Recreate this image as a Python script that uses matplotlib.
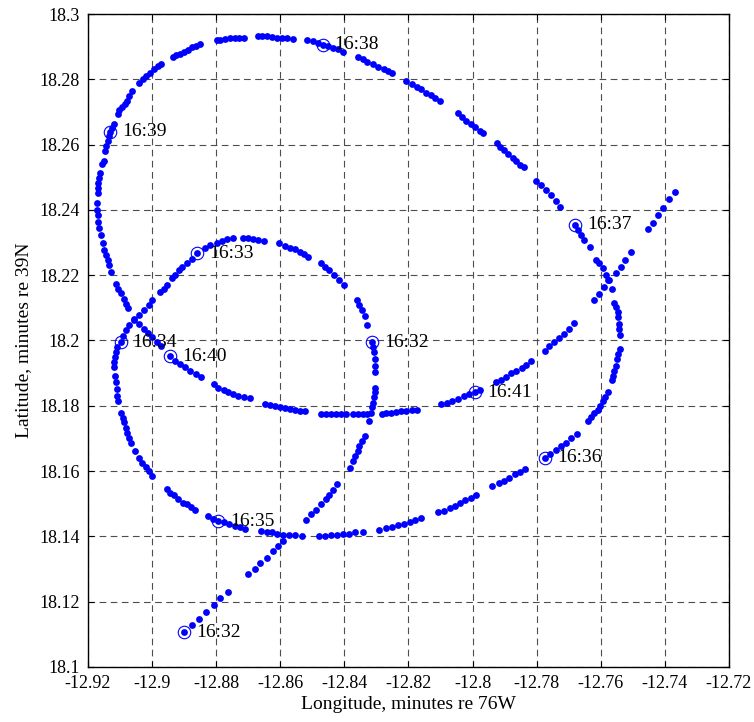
import matplotlib.pyplot as plt

plt.rcParams['font.family'] = ['Liberation Serif', 'DejaVu Serif']
plt.rcParams['axes.unicode_minus'] = False

# ship track fixes (longitude / latitude, minutes)
track_lon = [
    -12.8899, -12.8875, -12.8853, -12.8831, -12.8808, -12.8788, -12.8764,
    -12.8702, -12.8679, -12.8664, -12.8643, -12.8624, -12.8607, -12.8591,
    -12.8519, -12.8505, -12.8488, -12.8472, -12.8457, -12.8447, -12.8434, -12.8424,
    -12.8384, -12.8374, -12.8366, -12.8359, -12.8353, -12.8345, -12.8336,
    -12.8322, -12.8317, -12.8315, -12.8312, -12.8308, -12.8305, -12.8304,
    -12.8304, -12.8304, -12.8304, -12.8307, -12.8310, -12.8314,
    -12.8328, -12.8336, -12.8345, -12.8353, -12.8362,
    -12.8400, -12.8418, -12.8431, -12.8447, -12.8462, -12.8472,
    -12.8514, -12.8527, -12.8540, -12.8555, -12.8571, -12.8586, -12.8604,
    -12.8651, -12.8669, -12.8684, -12.8700, -12.8717,
    -12.8748, -12.8767, -12.8782, -12.8798, -12.8819, -12.8834, -12.8860, -12.8875,
    -12.8891, -12.8906, -12.8917, -12.8927, -12.8937,
    -12.8953, -12.8963, -12.8974,
    -12.8999, -12.9010, -12.9025, -12.9041, -12.9056, -12.9072, -12.9082, -12.9092,
    -12.9098, -12.9108, -12.9113, -12.9116, -12.9118, -12.9118,
    -12.9116, -12.9113, -12.9110, -12.9108, -12.9106,
    -12.9098, -12.9092, -12.9087, -12.9082, -12.9077, -12.9072, -12.9067,
    -12.9054, -12.9041, -12.9030, -12.9020, -12.9010, -12.8999,
    -12.8955, -12.8945, -12.8932, -12.8919, -12.8904, -12.8891, -12.8878, -12.8865,
    -12.8824, -12.8810, -12.8793, -12.8777, -12.8759, -12.8741, -12.8726, -12.8710,
    -12.8660, -12.8643, -12.8627, -12.8610, -12.8591, -12.8573, -12.8555, -12.8531,
    -12.8480, -12.8462, -12.8441, -12.8424, -12.8405, -12.8387, -12.8366, -12.8343,
    -12.8291, -12.8271, -12.8250, -12.8232, -12.8214, -12.8196, -12.8180, -12.8162,
    -12.8108, -12.8090, -12.8072, -12.8056, -12.8040, -12.8023, -12.8004, -12.7988,
    -12.7938, -12.7919, -12.7902, -12.7885, -12.7868, -12.7852, -12.7837,
    -12.7773, -12.7759, -12.7740, -12.7723, -12.7708, -12.7692, -12.7675,
    -12.7640, -12.7630, -12.7620, -12.7609, -12.7601, -12.7594, -12.7587, -12.7578,
    -12.7566, -12.7563, -12.7558, -12.7553, -12.7550, -12.7545, -12.7541,
    -12.7541, -12.7542, -12.7542, -12.7545, -12.7547, -12.7553, -12.7558,
    -12.7566, -12.7576, -12.7584, -12.7594, -12.7604, -12.7615,
    -12.7635, -12.7651, -12.7661, -12.7671, -12.7680,
    -12.7728, -12.7739, -12.7754, -12.7770, -12.7785, -12.7801,
    -12.7840, -12.7852, -12.7863, -12.7875, -12.7888, -12.7902, -12.7914, -12.7925,
    -12.7966, -12.7978, -12.7992, -12.8004, -12.8020, -12.8033, -12.8047,
    -12.8102, -12.8116, -12.8129, -12.8144, -12.8160, -12.8173, -12.8188, -12.8207,
    -12.8250, -12.8263, -12.8276, -12.8295, -12.8310, -12.8328, -12.8343, -12.8359,
    -12.8403, -12.8421, -12.8436, -12.8452, -12.8467, -12.8483, -12.8498, -12.8517,
    -12.8559, -12.8580, -12.8595, -12.8611, -12.8626, -12.8642, -12.8657, -12.8671,
    -12.8714, -12.8728, -12.8742, -12.8758, -12.8771, -12.8787, -12.8799,
    -12.8852, -12.8864, -12.8874, -12.8887, -12.8900, -12.8913, -12.8926, -12.8936,
    -12.8973, -12.8981, -12.8993, -12.9006, -12.9019, -12.9029, -12.9040,
    -12.9064, -12.9071, -12.9079, -12.9086, -12.9095, -12.9102, -12.9107,
    -12.9120, -12.9126, -12.9130, -12.9133, -12.9138, -12.9143, -12.9148,
    -12.9151, -12.9157,
    -12.9164, -12.9167, -12.9169, -12.9169, -12.9169,
    -12.9171, -12.9172, -12.9169, -12.9169, -12.9165, -12.9160,
    -12.9154, -12.9149, -12.9144, -12.9139, -12.9134, -12.9129,
    -12.9113, -12.9106, -12.9098, -12.9089, -12.9082, -12.9075,
    -12.9056, -12.9041, -12.9025, -12.9013, -12.8999, -12.8984, -12.8971,
    -12.8943, -12.8927, -12.8912, -12.8896, -12.8881, -12.8862, -12.8847,
    -12.8808, -12.8793, -12.8777, -12.8762, -12.8746, -12.8731, -12.8713, -12.8695,
    -12.8648, -12.8633, -12.8617, -12.8602, -12.8586, -12.8571, -12.8555, -12.8540, -12.8524,
    -12.8472, -12.8457, -12.8441, -12.8426, -12.8410, -12.8395, -12.8374, -12.8359,
    -12.8343, -12.8328,
    -12.8283, -12.8269, -12.8255, -12.8240, -12.8224, -12.8207, -12.8188, -12.8173,
    -12.8097, -12.8080, -12.8064, -12.8046, -12.8028, -12.8010, -12.7992, -12.7976,
    -12.7928, -12.7911, -12.7897, -12.7880, -12.7863, -12.7847, -12.7832, -12.7818,
    -12.7775, -12.7761, -12.7746, -12.7731, -12.7715, -12.7699, -12.7684,
    -12.7622, -12.7604, -12.7589, -12.7573, -12.7554, -12.7537, -12.7523, -12.7506,
    -12.7452, -12.7436, -12.7421, -12.7405, -12.7387, -12.7368,
]
track_lat = [
    18.1106, 18.1128, 18.1147, 18.1167, 18.1190, 18.1210, 18.1231,
    18.1284, 18.1301, 18.1318, 18.1335, 18.1354, 18.1372, 18.1387,
    18.1451, 18.1469, 18.1482, 18.1498, 18.1513, 18.1526, 18.1541, 18.1559,
    18.1610, 18.1631, 18.1646, 18.1662, 18.1677, 18.1692, 18.1708,
    18.1754, 18.1779, 18.1795, 18.1810, 18.1826, 18.1841, 18.1856,
    18.1905, 18.1923, 18.1944, 18.1964, 18.1979, 18.1995,
    18.2048, 18.2075, 18.2092, 18.2108, 18.2123,
    18.2171, 18.2185, 18.2200, 18.2215, 18.2226, 18.2236,
    18.2256, 18.2265, 18.2272, 18.2280, 18.2284, 18.2290, 18.2298,
    18.2305, 18.2308, 18.2311, 18.2313, 18.2315,
    18.2315, 18.2311, 18.2305, 18.2298, 18.2292, 18.2282, 18.2267, 18.2251,
    18.2236, 18.2226, 18.2215, 18.2200, 18.2190,
    18.2169, 18.2159, 18.2149,
    18.2123, 18.2108, 18.2092, 18.2079, 18.2062, 18.2046, 18.2031, 18.2015,
    18.1995, 18.1979, 18.1964, 18.1949, 18.1933, 18.1918,
    18.1892, 18.1872, 18.1851, 18.1831, 18.1815,
    18.1779, 18.1764, 18.1749, 18.1733, 18.1718, 18.1702, 18.1687,
    18.1662, 18.1641, 18.1626, 18.1612, 18.1600, 18.1585,
    18.1544, 18.1533, 18.1526, 18.1513, 18.1502, 18.1498, 18.1490, 18.1482,
    18.1462, 18.1454, 18.1446, 18.1443, 18.1438, 18.1433, 18.1428, 18.1424,
    18.1418, 18.1413, 18.1412, 18.1408, 18.1405, 18.1403, 18.1403, 18.1402,
    18.1402, 18.1402, 18.1403, 18.1405, 18.1407, 18.1408, 18.1412, 18.1413,
    18.1421, 18.1426, 18.1429, 18.1434, 18.1439, 18.1444, 18.1449, 18.1456,
    18.1474, 18.1479, 18.1487, 18.1494, 18.1501, 18.1510, 18.1518, 18.1526,
    18.1554, 18.1562, 18.1571, 18.1579, 18.1590, 18.1598, 18.1605,
    18.1641, 18.1653, 18.1664, 18.1677, 18.1687, 18.1701, 18.1715,
    18.1754, 18.1766, 18.1779, 18.1787, 18.1800, 18.1815, 18.1828, 18.1841,
    18.1879, 18.1892, 18.1908, 18.1923, 18.1944, 18.1959, 18.1974,
    18.2018, 18.2036, 18.2051, 18.2072, 18.2087, 18.2102, 18.2115,
    18.2159, 18.2185, 18.2200, 18.2221, 18.2236, 18.2248,
    18.2287, 18.2308, 18.2323, 18.2338, 18.2354,
    18.2410, 18.2426, 18.2446, 18.2462, 18.2477, 18.2487,
    18.2530, 18.2538, 18.2549, 18.2559, 18.2571, 18.2582, 18.2593, 18.2605,
    18.2635, 18.2643, 18.2654, 18.2662, 18.2672, 18.2684, 18.2698,
    18.2733, 18.2744, 18.2751, 18.2759, 18.2769, 18.2776, 18.2785, 18.2795,
    18.2818, 18.2826, 18.2833, 18.2839, 18.2846, 18.2853, 18.2862, 18.2867,
    18.2884, 18.2892, 18.2895, 18.2901, 18.2906, 18.2911, 18.2916, 18.2921,
    18.2923, 18.2928, 18.2928, 18.2928, 18.2931, 18.2933, 18.2933, 18.2933,
    18.2928, 18.2928, 18.2928, 18.2925, 18.2923, 18.2921, 18.2920,
    18.2908, 18.2902, 18.2898, 18.2890, 18.2885, 18.2879, 18.2874, 18.2867,
    18.2848, 18.2841, 18.2831, 18.2818, 18.2810, 18.2800, 18.2790,
    18.2764, 18.2749, 18.2735, 18.2725, 18.2715, 18.2705, 18.2694,
    18.2662, 18.2651, 18.2639, 18.2626, 18.2610, 18.2595, 18.2579,
    18.2549, 18.2541,
    18.2513, 18.2498, 18.2482, 18.2467, 18.2451,
    18.2421, 18.2400, 18.2385, 18.2364, 18.2344, 18.2323,
    18.2298, 18.2277, 18.2262, 18.2246, 18.2231, 18.2210,
    18.2174, 18.2159, 18.2144, 18.2128, 18.2113, 18.2099,
    18.2067, 18.2051, 18.2036, 18.2024, 18.2010, 18.1995, 18.1982,
    18.1952, 18.1938, 18.1928, 18.1918, 18.1908, 18.1898, 18.1887,
    18.1867, 18.1856, 18.1848, 18.1841, 18.1836, 18.1831, 18.1826, 18.1824,
    18.1805, 18.1802, 18.1800, 18.1797, 18.1792, 18.1790, 18.1787, 18.1784, 18.1785,
    18.1774, 18.1774, 18.1774, 18.1774, 18.1774, 18.1774, 18.1774, 18.1774,
    18.1774, 18.1774,
    18.1774, 18.1778, 18.1779, 18.1782, 18.1785, 18.1785, 18.1788, 18.1788,
    18.1805, 18.1810, 18.1815, 18.1822, 18.1829, 18.1836, 18.1841, 18.1849,
    18.1872, 18.1880, 18.1889, 18.1899, 18.1908, 18.1916, 18.1925, 18.1938,
    18.1969, 18.1982, 18.1995, 18.2008, 18.2021, 18.2036, 18.2053,
    18.2123, 18.2142, 18.2164, 18.2185, 18.2207, 18.2226, 18.2248, 18.2272,
    18.2341, 18.2361, 18.2385, 18.2407, 18.2433, 18.2455,
]

# minute marks along the track
mark_lon = [-12.8899, -12.8314, -12.8860, -12.9098, -12.8793, -12.7773,
            -12.7680, -12.8467, -12.9130, -12.8943, -12.7992]
mark_lat = [18.1106, 18.1995, 18.2267, 18.1995, 18.1446, 18.1641,
            18.2354, 18.2906, 18.2639, 18.1952, 18.1841]
mark_labels = ['16:32', '16:32', '16:33', '16:34', '16:35', '16:36',
               '16:37', '16:38', '16:39', '16:40', '16:41']

xticks = [-12.92, -12.9, -12.88, -12.86, -12.84, -12.82, -12.8, -12.78, -12.76, -12.74, -12.72]
yticks = [18.1, 18.12, 18.14, 18.16, 18.18, 18.2, 18.22, 18.24, 18.26, 18.28, 18.3]

fig = plt.figure(figsize=(7.54, 7.22), dpi=100)
ax = fig.add_axes([0.1167, 0.0762, 0.8501, 0.9044])

ax.plot(track_lon, track_lat, 'o', color='#0000ff', markersize=4.9, markeredgewidth=0, zorder=3)
ax.plot(mark_lon, mark_lat, 'o', markerfacecolor='none', markeredgecolor='#0000ff',
        markersize=9, markeredgewidth=0.8, zorder=3)
for x, y, s in zip(mark_lon, mark_lat, mark_labels):
    ax.annotate(s, (x, y), xytext=(8.5, 0), textcoords='offset points',
                va='center', ha='left', fontsize=14, zorder=4)

ax.set_xlim(-12.92, -12.72)
ax.set_ylim(18.1, 18.3)
ax.set_xticks(xticks)
ax.set_yticks(yticks)
ax.set_xticklabels(['%g' % t for t in xticks])
ax.set_yticklabels(['%g' % t for t in yticks])
ax.tick_params(direction='in', length=4, width=0.8, labelsize=13, top=True, right=True, pad=6)
ax.grid(True, color='0.3', linestyle=(0, (6, 4)), linewidth=0.8)
for sp in ax.spines.values():
    sp.set_linewidth(1.0)

ax.set_xlabel('Longitude, minutes re 76W', fontsize=14, labelpad=3)
ax.set_ylabel('Latitude, minutes re 39N', fontsize=14, labelpad=5)

fig.savefig('out.png', dpi=100)
